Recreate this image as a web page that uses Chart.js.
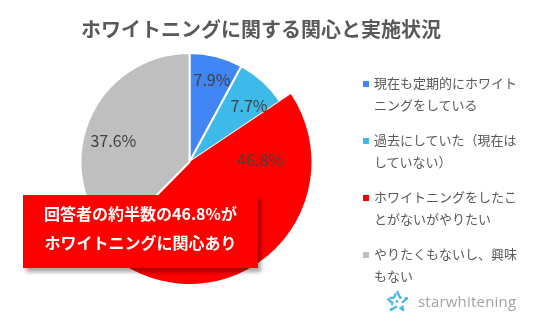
<!DOCTYPE html>
<html>
<head>
<meta charset="utf-8">
<script src="https://cdn.jsdelivr.net/npm/chart.js@4"></script>
<style>
    body { margin: 0; background: #fff; }
    #wrap { position: relative; width: 536px; height: 323px; overflow: hidden; font-family: "Noto Sans CJK JP", sans-serif; }
    #pie { position: absolute; left: 0; top: 0; }
    #title { position: absolute; left: 0; top: 14px; width: 522px; text-align: center; font-size: 20px; line-height: 30px; font-weight: bold; color: #595959; }
    #legend { position: absolute; left: 363px; top: 72px; margin: 0; padding: 0; list-style: none; }
    #legend li { display: flex; align-items: flex-start; margin-bottom: 13px; }
    #legend .box { width: 6px; height: 6px; margin-top: 9px; margin-right: 5px; flex: none; }
    #legend .txt { width: 144px; font-size: 13px; line-height: 22px; color: #595959; word-break: break-all; }
    #callout { position: absolute; left: 23px; top: 195px; width: 235px; height: 73px; background: #ff0000; box-shadow: 3px 4px 4px rgba(0,0,0,0.35); color: #fff; font-weight: bold; font-size: 16px; line-height: 29px; text-align: center; padding-top: 4px; box-sizing: border-box; }
    #logo { position: absolute; left: 385px; top: 289px; display: flex; align-items: center; }
    #logo span { margin-left: 9px; font-family: "Open Sans", sans-serif; font-size: 15px; color: #a3a3a3; letter-spacing: 0.2px; }
</style>
</head>
<body>
<div id="wrap">
    <canvas id="pie" width="536" height="323"></canvas>
    <div id="title">ホワイトニングに関する関心と実施状況</div>
    <ul id="legend"></ul>
    <div id="callout">回答者の約半数の46.8%が<br>ホワイトニングに関心あり</div>
    <div id="logo">
        <svg width="24" height="24" viewBox="0 0 24 24">
            <polygon points="12,2 14.9,8.6 22,9.3 16.6,14 18.2,21 12,17.3 5.8,21 7.4,14 2,9.3 9.1,8.6"
                fill="none" stroke="#4db8e8" stroke-width="2.4" stroke-linejoin="round" stroke-dasharray="9 3"/>
            <circle cx="12" cy="12.5" r="1.4" fill="#4db8e8"/>
        </svg>
        <span>starwhitening</span>
    </div>
</div>
<script>
// --- DATA ---
const labels = [
    '現在も定期的にホワイトニングをしている',
    '過去にしていた（現在はしていない）',
    'ホワイトニングをしたことがないがやりたい',
    'やりたくもないし、興味もない'
];
const values = [7.9, 7.7, 46.8, 37.6];
const colors = ['#4285f4', '#3dbaea', '#ff0000', '#bfbfbf'];

// label placement inside each slice: [fraction of slice angle, fraction of radius]
const labelSpots = [[0.54, 0.78], [0.66, 0.75], [0.19, 0.58], [0.45, 0.725]];
// the emphasised slice is drawn with a bigger radius
const radiusBoost = [0, 0, 13, 0];

// --- LEGEND ---
const legend = document.getElementById('legend');
labels.forEach((text, i) => {
    const li = document.createElement('li');
    li.innerHTML = `<div class="box" style="background:${colors[i]}"></div><div class="txt">${text}</div>`;
    legend.appendChild(li);
});

// --- PLUGINS ---
const enlargeSlice = {
    id: 'enlargeSlice',
    afterDatasetUpdate(chart, args) {
        args.meta.data.forEach((arc, i) => { arc.outerRadius += radiusBoost[i]; });
    }
};

const sliceLabels = {
    id: 'sliceLabels',
    afterDatasetsDraw(chart) {
        const ctx = chart.ctx;
        const meta = chart.getDatasetMeta(0);
        ctx.save();
        ctx.font = '16px "Noto Sans CJK JP", sans-serif';
        ctx.fillStyle = '#404040';
        ctx.textAlign = 'center';
        ctx.textBaseline = 'middle';
        meta.data.forEach((arc, i) => {
            const [af, rf] = labelSpots[i];
            const a = arc.startAngle + (arc.endAngle - arc.startAngle) * af;
            const r = arc.outerRadius * rf;
            ctx.fillText(values[i].toFixed(1) + '%', arc.x + Math.cos(a) * r, arc.y + Math.sin(a) * r);
        });
        ctx.restore();
    }
};

new Chart(document.getElementById('pie'), {
    type: 'pie',
    data: {
        labels: labels,
        datasets: [{
            data: values,
            backgroundColor: colors,
            borderColor: '#ffffff',
            borderWidth: [2, 2, 0, 2],
            hoverOffset: 0
        }]
    },
    options: {
        responsive: false,
        animation: false,
        layout: { padding: { left: 79.5, right: 236.5, top: 52, bottom: 51 } },
        plugins: {
            legend: { display: false },
            tooltip: { enabled: false }
        }
    },
    plugins: [enlargeSlice, sliceLabels]
});
</script>
</body>
</html>
